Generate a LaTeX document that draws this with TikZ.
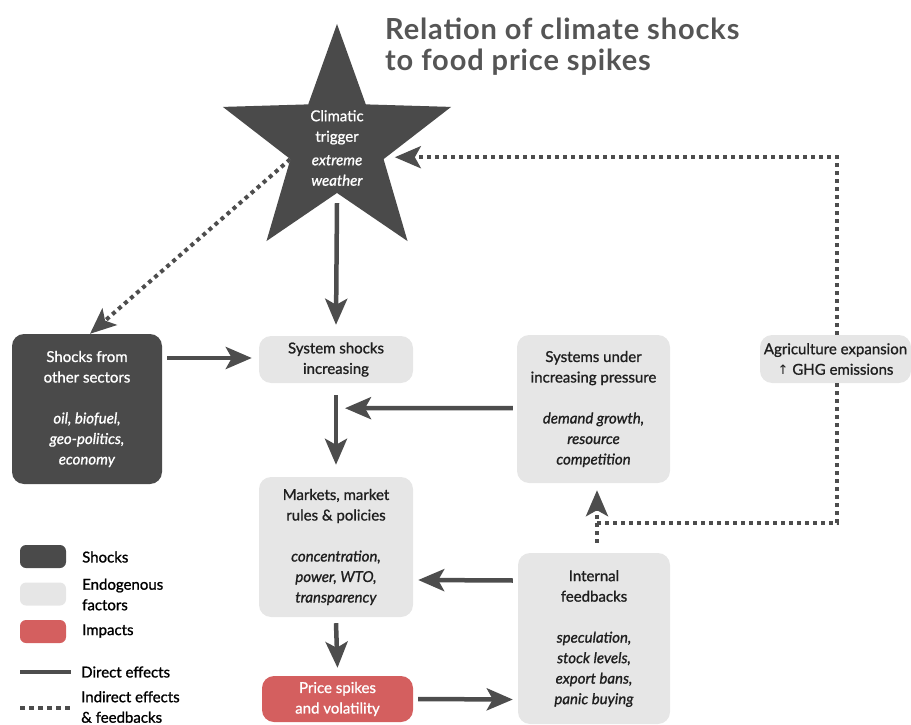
\documentclass[tikz,border=0pt]{standalone}
\usepackage{fontspec}
\setmainfont{Lato}[FakeBold=1.1]
\newfontfamily\titlefont{Lato}[LetterSpace=3]
\newfontfamily\symbolfont{DejaVu Sans}
\usetikzlibrary{arrows.meta, shapes.geometric}
\definecolor{shockgray}{HTML}{4A4A4A}
\definecolor{endogray}{HTML}{E6E6E6}
\definecolor{impactred}{HTML}{D45F5F}
\definecolor{arrowgray}{HTML}{4D4D4D}
\definecolor{titlegray}{HTML}{555555}
\newcommand{\boxfont}{\fontsize{15}{20.5}\selectfont}

\tikzset{
  factor/.style={fill=endogray, rounded corners=12pt, text=black!88, align=center,
    font=\boxfont, inner sep=0pt, minimum width=154pt},
  shockbox/.style={factor, fill=shockgray, text=white},
  impactbox/.style={factor, fill=impactred, text=white},
  legendbox/.style={rounded corners=6pt, inner sep=0pt, minimum width=46pt, minimum height=23pt},
  legendtext/.style={font=\boxfont, anchor=west, align=left, inner sep=0pt},
  titletext/.style={anchor=base west, inner sep=0pt, text=titlegray,
    font=\titlefont\fontsize{29}{31}\selectfont\bfseries},
  direct/.style={draw=arrowgray, line width=4.5pt, -{Stealth[length=26pt,width=22pt,inset=6pt]}},
  indirect/.style={draw=arrowgray, line width=4pt, dash pattern=on 4pt off 4pt},
}

\begin{document}
\begin{tikzpicture}[x=1pt, y=-1pt]
\useasboundingbox (0,0) rectangle (911,725);

% title
\node[titletext] (title) at (385,40) {Relation of climate shocks};
\node[titletext] (subtitle) at (385,71) {to food price spikes};

% climatic trigger
\node[star, star points=5, star point ratio=2.45, minimum size=240pt,
  inner sep=0pt, fill=shockgray] (star) at (337,144) {};
\node[font=\boxfont, text=white, align=center] (trigger) at (337,148)
  {Climatic\\trigger\\[3pt]\textit{extreme}\\\textit{weather}};

% boxes
\node[shockbox, minimum width=150pt, minimum height=150pt] (shocks) at (87,409)
  {Shocks from\\other sectors\\[20.5pt]\textit{oil, biofuel,}\\\textit{geo-politics,}\\\textit{economy}};
\node[factor, minimum height=47pt] (sys) at (336,359.5)
  {System shocks\\increasing};
\node[factor, minimum width=153pt, minimum height=148pt] (pressure) at (593.5,409)
  {Systems under\\increasing pressure\\[20.5pt]\textit{demand growth,}\\\textit{resource}\\\textit{competition}};
\node[factor, minimum width=151pt, minimum height=48pt] (agri) at (835.5,359)
  {Agriculture expansion\\{\symbolfont\fontsize{13}{13}\selectfont↑} GHG emissions};
\node[factor, minimum height=140pt] (mkt) at (336,547)
  {Markets, market\\rules \& policies\\[20.5pt]\textit{concentration,}\\\textit{power, WTO,}\\\textit{transparency}};
\node[impactbox, minimum width=151pt, minimum height=46pt] (price) at (337.5,699)
  {Price spikes\\and volatility};
\node[factor, minimum width=152pt, minimum height=171pt] (feed) at (594,638.5)
  {Internal\\feedbacks\\[20.5pt]\textit{speculation,}\\\textit{stock levels,}\\\textit{export bans,}\\\textit{panic buying}};

% direct effects
\draw[direct] ([yshift=-10pt]star.south) -- ([yshift=11pt]sys.north);
\draw[direct] ([xshift=5pt,yshift=51pt]shocks.east) -- ([xshift=-7pt,yshift=1.5pt]sys.west);
\draw[direct] ([yshift=-12pt]sys.south) -- ([yshift=12pt]mkt.north);
\draw[direct] ([xshift=-4pt,yshift=1pt]pressure.west) -- ([xshift=9pt,yshift=-25pt]sys.south);
\draw[direct] ([xshift=-5pt,yshift=58pt]feed.west) -- ([xshift=5pt,yshift=-33pt]mkt.east);
\draw[direct] ([yshift=-6pt]mkt.south) -- ([yshift=8pt]price.north);
\draw[direct] ([xshift=5pt]price.east) -- ([xshift=-5pt,yshift=-61pt]feed.west);

% indirect effects and feedbacks
\draw[indirect, -{Stealth[length=26pt,width=22pt,inset=6pt]}]
  (star.inner point 2) -- ([xshift=3pt]shocks.north);
\draw[indirect, -{Stealth[length=26pt,width=22pt,inset=6pt]}]
  ([xshift=1.5pt]agri.north) |- ([xshift=11pt,yshift=2pt]star.inner point 4);
\coordinate (join) at (597,523);
\draw[indirect] ([xshift=1.5pt]agri.south) |- (join);
\draw[indirect, -{Stealth[length=26pt,width=22pt,inset=6pt]}]
  ([xshift=3pt,yshift=10pt]feed.north) -- ([xshift=3.5pt,yshift=-7pt]pressure.south);

% legend
\node[legendbox, fill=shockgray] (legshock) at (43,556.5) {};
\node[legendbox, fill=endogray] (legendo) at (43,594) {};
\node[legendbox, fill=impactred] (legimpact) at (43,631.5) {};
\node[legendtext] (txtshock) at (82,557) {Shocks};
\node[legendtext] (txtendo) at (82,594.5) {Endogenous\\factors};
\node[legendtext] (txtimpact) at (82,631) {Impacts};
\draw[arrowgray, line width=4.5pt] (20,672) -- (71,672);
\node[legendtext] (txtdirect) at (81,672) {Direct effects};
\draw[arrowgray, line width=4pt, dash pattern=on 5pt off 4pt] (20,708) -- (71,708);
\node[legendtext] (txtindirect) at (81,707) {Indirect effects\\\& feedbacks};
\end{tikzpicture}
\end{document}
